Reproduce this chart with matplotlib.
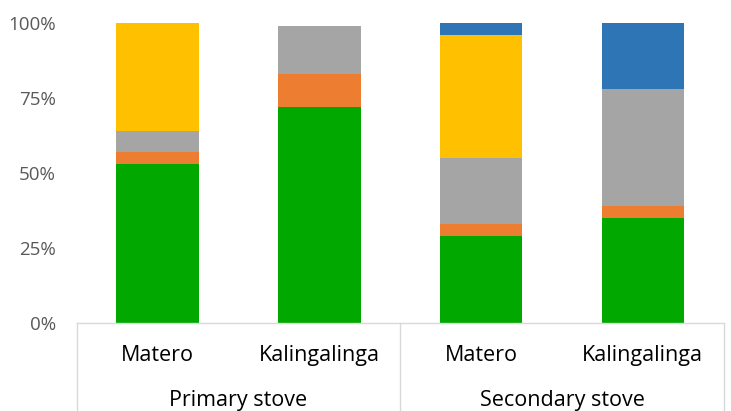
import numpy as np
import matplotlib.pyplot as plt
from matplotlib.lines import Line2D
from matplotlib.ticker import FuncFormatter

plt.rcParams['font.family'] = ['Open Sans', 'DejaVu Sans']

# Data (shares of households, %)
sites = ['Matero', 'Kalingalinga', 'Matero', 'Kalingalinga']
groups = ['Primary stove', 'Secondary stove']
green = [53, 72, 29, 35]
orange = [4, 11, 4, 4]
gray = [7, 16, 22, 39]
yellow = [36, 0, 41, 0]
blue = [0, 0, 4, 22]

series = [green, orange, gray, yellow, blue]
colors = ['#00A800', '#ED7D31', '#A5A5A5', '#FFC000', '#2E75B6']

fig = plt.figure(figsize=(7.31, 4.11), dpi=100)
ax = fig.add_axes([0.105, 0.213, 0.885, 0.731])

x = np.arange(len(sites))
bottom = np.zeros(len(sites))
for vals, c in zip(series, colors):
    v = np.array(vals) / 100.0
    ax.bar(x, v, width=0.51, bottom=bottom, color=c, edgecolor='none')
    bottom += v

ax.set_xlim(-0.5, len(sites) - 0.5)
ax.set_ylim(0, 1)
ax.set_yticks([0, 0.25, 0.5, 0.75, 1.0])
ax.yaxis.set_major_formatter(FuncFormatter(lambda v, p: f'{v*100:.0f}%'))
ax.tick_params(axis='y', length=0, labelsize=13.5, labelcolor='#595959', pad=15)
ax.set_xticks([])

for s in ['top', 'right', 'left']:
    ax.spines[s].set_visible(False)
ax.spines['bottom'].set_color('#D9D9D9')
ax.spines['bottom'].set_linewidth(1)

# multi-level category axis
trans = ax.get_xaxis_transform()
for xv in [-0.5, 1.5, 3.5]:
    ax.add_line(Line2D([xv, xv], [0, -0.45], transform=trans, color='#D9D9D9',
                       lw=1, clip_on=False))
for i, name in enumerate(sites):
    ax.text(i, -0.105, name, transform=trans, ha='center', va='center',
            fontsize=15.5, color='#000000')
for j, g in enumerate(groups):
    ax.text(2 * j + 0.5, -0.255, g, transform=trans, ha='center', va='center',
            fontsize=15.5, color='#000000')

fig.savefig('out.png', dpi=100)
